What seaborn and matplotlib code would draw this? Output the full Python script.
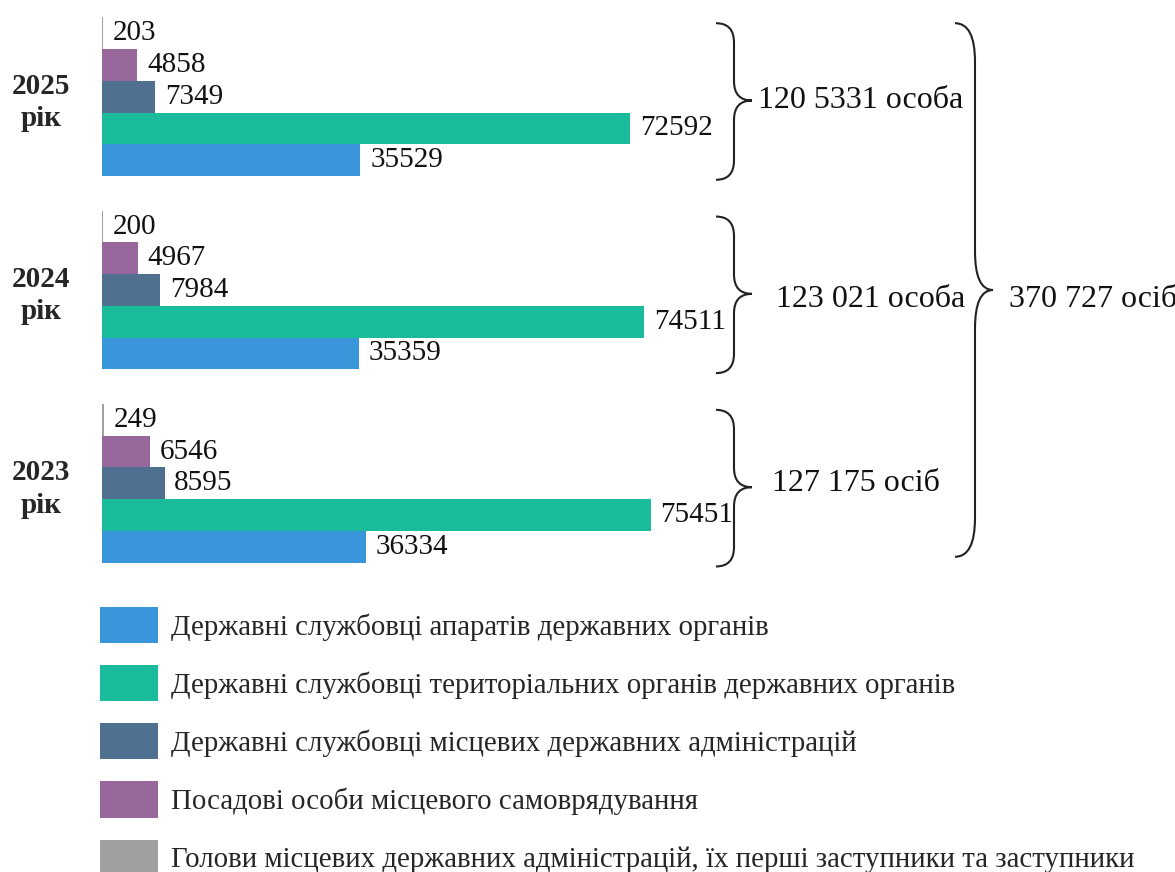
import pandas as pd
import matplotlib
matplotlib.use('Agg')
import matplotlib.pyplot as plt
import matplotlib.transforms as mtransforms
from matplotlib.path import Path
from matplotlib.patches import PathPatch, Patch
import seaborn as sns

# data
years = ['2025', '2024', '2023']
categories = ['Державні службовці апаратів державних органів',
              'Державні службовці територіальних органів державних органів',
              'Державні службовці місцевих державних адміністрацій',
              'Посадові особи місцевого самоврядування',
              'Голови місцевих державних адміністрацій, їх перші заступники та заступники']
aparat = [35529, 35359, 36334]
terytor = [72592, 74511, 75451]
mistsevi = [7349, 7984, 8595]
posadovi = [4858, 4967, 6546]
golovy = [203, 200, 249]
group_totals = ['120 5331 особа', '123 021 особа', '127 175 осіб']
grand_total = '370 727 осіб'
colors = ['#3A96DB', '#1ABC9C', '#50708F', '#98689D', '#A0A0A0']

rows = []
for cat, vals in zip(categories, [aparat, terytor, mistsevi, posadovi, golovy]):
    for y, v in zip(years, vals):
        rows.append({'year': y, 'cat': cat, 'value': v})
df = pd.DataFrame(rows)

sns.set_style('white')
plt.rcParams['font.family'] = ['Liberation Serif', 'DejaVu Serif']

fig = plt.figure(figsize=(11.75, 8.72), dpi=100)
ax = fig.add_axes([102/1175, (872-580)/872, 1 - 102/1175, 580/872])

# top-to-bottom order inside each group is the reverse of the legend
sns.barplot(data=df, x='value', y='year', hue='cat', order=years,
            hue_order=categories[::-1], palette=colors[::-1], width=0.82,
            orient='h', saturation=1, linewidth=0, legend=False, ax=ax)

for cont in ax.containers:
    ax.bar_label(cont, padding=7, fontsize=21, color='#111111')

ax.set_xlim(0, 147500)
ax.set_ylim(2.5, -0.5)
ax.set_xlabel('')
ax.set_ylabel('')
ax.set_xticks([])
ax.set_yticks(range(len(years)))
ax.set_yticklabels([y + '\nрік' for y in years], fontsize=21, fontweight='bold',
                   linespacing=1.25)
ax.tick_params(axis='y', length=0, pad=44)
for lab in ax.get_yticklabels():
    lab.set_ha('center')
sns.despine(ax=ax, left=True, bottom=True)


def brace(ax, xe, xs, xt, y0, y1, r, ym=None):
    # right-pointing curly brace, x in axes fraction, y in data
    if ym is None:
        ym = (y0 + y1) / 2
    verts = [(xe, y0), (xs, y0), (xs, y0 + r),
             (xs, ym - r), (xs, ym), (xt, ym),
             (xs, ym), (xs, ym + r),
             (xs, y1 - r), (xs, y1), (xe, y1)]
    codes = [Path.MOVETO, Path.CURVE3, Path.CURVE3,
             Path.LINETO, Path.CURVE3, Path.CURVE3,
             Path.CURVE3, Path.CURVE3,
             Path.LINETO, Path.CURVE3, Path.CURVE3]
    tr = mtransforms.blended_transform_factory(ax.transAxes, ax.transData)
    ax.add_patch(PathPatch(Path(verts, codes), transform=tr, fill=False,
                           lw=1.5, ec='#222222', clip_on=False))


def fx(px):
    return (px - 102) / 1073


text_x = [758, 776, 772]
text_y = [0.02, 1.05, 2.0]
tr = mtransforms.blended_transform_factory(ax.transAxes, ax.transData)
for i, label in enumerate(group_totals):
    brace(ax, fx(716), fx(734), fx(752), i - 0.38, i + 0.43, 0.1, ym=i + 0.02)
    ax.text(fx(text_x[i]), text_y[i], label, transform=tr, fontsize=23,
            va='center', ha='left', color='#111111')

brace(ax, fx(955), fx(975), fx(993), -0.38, 2.38, 0.2, ym=1.0)
ax.text(fx(1009), 1.05, grand_total, transform=tr, fontsize=23, va='center',
        ha='left', color='#111111')

handles = [Patch(facecolor=c, edgecolor='none') for c in colors]
fig.legend(handles, categories, loc='upper left',
           bbox_to_anchor=(100/1175, 1 - 607/872), frameon=False,
           borderpad=0, borderaxespad=0, fontsize=20.8, handlelength=2.0,
           handleheight=1.55, handletextpad=0.45, labelspacing=0.76)

fig.savefig('out.png', dpi=100, facecolor='white')
